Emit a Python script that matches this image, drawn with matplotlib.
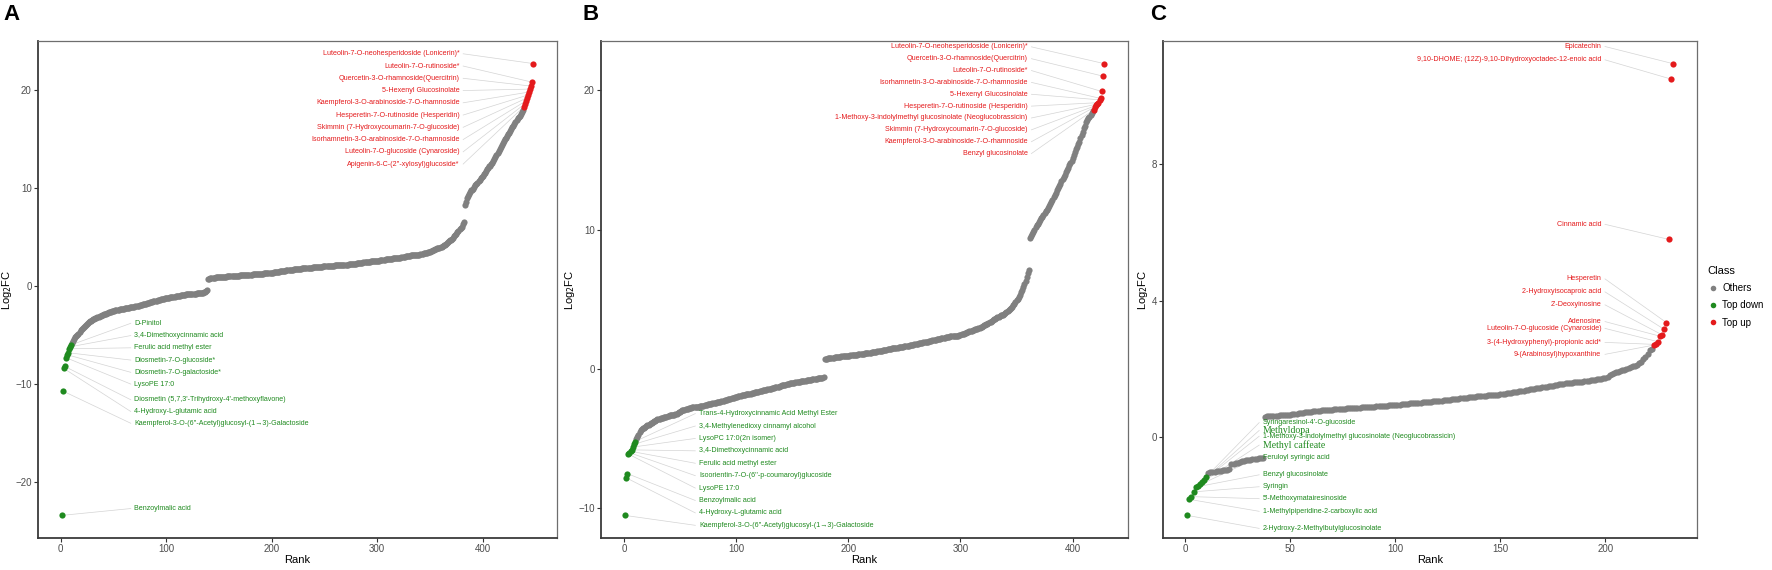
import matplotlib.pyplot as plt
from matplotlib.lines import Line2D

plt.rcParams['font.family'] = ['Liberation Sans', 'DejaVu Sans']

# ---------------- panel A ----------------
a_down = [-23.4, -10.7, -8.4, -8.2, -7.3, -7.0, -6.8, -6.4, -6.2, -6.0]
a_others = [
    -5.8, -5.6, -5.4, -5.2, -5.1, -5.0, -4.9, -4.7, -4.5, -4.4,
    -4.3, -4.2, -4.1, -4.0, -3.9, -3.8, -3.7, -3.6, -3.6, -3.5,
    -3.4, -3.4, -3.3, -3.3, -3.2, -3.2, -3.1, -3.05, -3.0, -2.95,
    -2.9, -2.85, -2.8, -2.75, -2.7, -2.65, -2.62, -2.6, -2.57, -2.54,
    -2.5, -2.47, -2.44, -2.42, -2.4, -2.38, -2.36, -2.34, -2.32, -2.3,
    -2.28, -2.26, -2.24, -2.22, -2.2, -2.18, -2.16, -2.14, -2.12, -2.1,
    -2.08, -2.05, -2.02, -1.99, -1.96, -1.93, -1.9, -1.87, -1.84, -1.81,
    -1.78, -1.75, -1.72, -1.69, -1.66, -1.63, -1.6, -1.57, -1.54, -1.51,
    -1.48, -1.45, -1.42, -1.39, -1.36, -1.33, -1.3, -1.28, -1.26, -1.24,
    -1.22, -1.2, -1.18, -1.16, -1.14, -1.12, -1.1, -1.08, -1.06, -1.04,
    -1.02, -1.0, -0.98, -0.96, -0.94, -0.92, -0.9, -0.88, -0.86, -0.84,
    -0.83, -0.82, -0.81, -0.8, -0.79, -0.78, -0.77, -0.76, -0.75, -0.74,
    -0.73, -0.72, -0.71, -0.7, -0.68, -0.65, -0.6, -0.5, -0.4,
    0.7, 0.75, 0.78, 0.8, 0.82, 0.84, 0.86, 0.88, 0.9, 0.9,
    0.9, 0.92, 0.92, 0.94, 0.94, 0.95, 0.96, 0.97, 0.98, 0.98,
    0.99, 1.0, 1.0, 1.01, 1.02, 1.03, 1.04, 1.05, 1.06, 1.07,
    1.08, 1.09, 1.1, 1.1, 1.11, 1.12, 1.13, 1.14, 1.15, 1.16,
    1.17, 1.18, 1.19, 1.2, 1.2, 1.21, 1.22, 1.23, 1.24, 1.25,
    1.26, 1.27, 1.28, 1.29, 1.3, 1.3, 1.31, 1.32, 1.33, 1.35,
    1.37, 1.38, 1.4, 1.42, 1.43, 1.45, 1.46, 1.48, 1.5, 1.51,
    1.53, 1.55, 1.56, 1.58, 1.6, 1.61, 1.63, 1.64, 1.66, 1.67,
    1.69, 1.7, 1.71, 1.72, 1.73, 1.75, 1.76, 1.77, 1.78, 1.8,
    1.81, 1.82, 1.83, 1.84, 1.85, 1.86, 1.87, 1.88, 1.89, 1.9,
    1.91, 1.92, 1.93, 1.94, 1.95, 1.96, 1.97, 1.98, 1.99, 2.0,
    2.0, 2.01, 2.02, 2.03, 2.04, 2.05, 2.06, 2.07, 2.08, 2.09,
    2.1, 2.11, 2.12, 2.13, 2.14, 2.15, 2.16, 2.17, 2.18, 2.19,
    2.2, 2.2, 2.2, 2.25, 2.25, 2.25, 2.3, 2.3, 2.3, 2.3,
    2.3, 2.35, 2.35, 2.35, 2.4, 2.4, 2.4, 2.45, 2.45, 2.5,
    2.5, 2.5, 2.5, 2.5, 2.55, 2.55, 2.55, 2.55, 2.55, 2.55,
    2.55, 2.6, 2.6, 2.65, 2.65, 2.7, 2.7, 2.7, 2.75, 2.75,
    2.75, 2.8, 2.8, 2.8, 2.8, 2.85, 2.85, 2.85, 2.85, 2.85,
    2.85, 2.9, 2.9, 2.95, 2.95, 3.0, 3.0, 3.05, 3.05, 3.1,
    3.1, 3.1, 3.15, 3.15, 3.15, 3.2, 3.2, 3.2, 3.2, 3.2,
    3.2, 3.25, 3.3, 3.3, 3.35, 3.35, 3.4, 3.4, 3.45, 3.45,
    3.5, 3.55, 3.6, 3.65, 3.7, 3.75, 3.8, 3.85, 3.9, 3.9,
    3.95, 4.0, 4.1, 4.15, 4.2, 4.3, 4.4, 4.5, 4.6, 4.65,
    4.7, 4.8, 4.9, 5.1, 5.2, 5.3, 5.5, 5.6, 5.8, 5.9,
    6.0, 6.3, 6.5, 8.3, 8.6, 9.0, 9.2, 9.4, 9.6, 9.8,
    9.8, 9.9, 10.1, 10.3, 10.4, 10.5, 10.7, 10.8, 11.0, 11.1,
    11.2, 11.4, 11.5, 11.7, 11.9, 12.0, 12.2, 12.3, 12.5, 12.6,
    12.8, 13.0, 13.2, 13.4, 13.6, 13.8, 14.0, 14.2, 14.4, 14.6,
    14.8, 15.0, 15.1, 15.3, 15.5, 15.6, 15.8, 16.0, 16.2, 16.3,
    16.5, 16.7, 16.9, 17.1, 17.3, 17.4, 17.6, 17.8, 18.0,
]
a_up = [18.3, 18.6, 18.9, 19.2, 19.5, 19.8, 20.1, 20.4, 20.8, 22.7]
a_up_names = [
    "Luteolin-7-O-neohesperidoside (Lonicerin)*",
    "Luteolin-7-O-rutinoside*",
    "Quercetin-3-O-rhamnoside(Quercitrin)",
    "5-Hexenyl Glucosinolate",
    "Kaempferol-3-O-arabinoside-7-O-rhamnoside",
    "Hesperetin-7-O-rutinoside (Hesperidin)",
    "Skimmin (7-Hydroxycoumarin-7-O-glucoside)",
    "Isorhamnetin-3-O-arabinoside-7-O-rhamnoside",
    "Luteolin-7-O-glucoside (Cynaroside)",
    "Apigenin-6-C-(2''-xylosyl)glucoside*",
]
a_down_names = [
    "D-Pinitol",
    "3,4-Dimethoxycinnamic acid",
    "Ferulic acid methyl ester",
    "Diosmetin-7-O-glucoside*",
    "Diosmetin-7-O-galactoside*",
    "LysoPE 17:0",
    "Diosmetin (5,7,3'-Trihydroxy-4'-methoxyflavone)",
    "4-Hydroxy-L-glutamic acid",
    "Kaempferol-3-O-(6''-Acetyl)glucosyl-(1\u21923)-Galactoside",
    "Benzoylmalic acid",
]

# ---------------- panel B ----------------
b_down = [-10.5, -7.8, -7.5, -6.1, -6.0, -5.9, -5.8, -5.6, -5.4, -5.2]
b_others = [
    -5.0, -4.85, -4.7, -4.55, -4.4, -4.3, -4.25, -4.2, -4.15, -4.1,
    -4.05, -4.0, -3.95, -3.9, -3.85, -3.8, -3.75, -3.7, -3.65, -3.62,
    -3.6, -3.58, -3.55, -3.52, -3.5, -3.47, -3.44, -3.41, -3.38, -3.35,
    -3.33, -3.31, -3.3, -3.3, -3.3, -3.25, -3.2, -3.15, -3.1, -3.05,
    -3.0, -2.97, -2.95, -2.92, -2.9, -2.87, -2.85, -2.82, -2.8, -2.77,
    -2.75, -2.74, -2.73, -2.72, -2.71, -2.7, -2.7, -2.68, -2.66, -2.64,
    -2.62, -2.6, -2.58, -2.56, -2.54, -2.52, -2.5, -2.48, -2.46, -2.44,
    -2.42, -2.41, -2.4, -2.4, -2.37, -2.35, -2.32, -2.3, -2.27, -2.25,
    -2.22, -2.2, -2.17, -2.15, -2.12, -2.1, -2.07, -2.05, -2.02, -2.0,
    -1.98, -1.96, -1.94, -1.92, -1.9, -1.88, -1.86, -1.84, -1.82, -1.81,
    -1.8, -1.78, -1.76, -1.74, -1.72, -1.7, -1.68, -1.66, -1.64, -1.62,
    -1.6, -1.58, -1.56, -1.54, -1.52, -1.5, -1.48, -1.46, -1.44, -1.42,
    -1.4, -1.38, -1.36, -1.34, -1.32, -1.3, -1.28, -1.26, -1.23, -1.2,
    -1.18, -1.16, -1.14, -1.12, -1.1, -1.08, -1.06, -1.04, -1.02, -1.0,
    -0.99, -0.97, -0.95, -0.94, -0.92, -0.91, -0.9, -0.88, -0.87, -0.86,
    -0.85, -0.84, -0.82, -0.81, -0.8, -0.78, -0.77, -0.75, -0.74, -0.72,
    -0.71, -0.7, -0.68, -0.67, -0.65, -0.64, -0.62, -0.6,
    0.7, 0.72, 0.74, 0.76, 0.77, 0.79, 0.8, 0.81, 0.82, 0.83, 0.85, 0.86,
    0.87, 0.88, 0.89, 0.9, 0.9, 0.91, 0.92, 0.93, 0.94, 0.95,
    0.96, 0.97, 0.98, 0.99, 1.0, 1.01, 1.02, 1.03, 1.04, 1.05,
    1.07, 1.08, 1.09, 1.1, 1.12, 1.13, 1.14, 1.16, 1.17, 1.18,
    1.2, 1.21, 1.22, 1.24, 1.25, 1.27, 1.28, 1.29, 1.31, 1.32,
    1.34, 1.35, 1.37, 1.38, 1.4, 1.42, 1.43, 1.45, 1.47, 1.48,
    1.5, 1.51, 1.53, 1.54, 1.55, 1.56, 1.58, 1.59, 1.6, 1.62,
    1.63, 1.65, 1.66, 1.68, 1.7, 1.71, 1.73, 1.74, 1.76, 1.78,
    1.79, 1.81, 1.83, 1.84, 1.86, 1.88, 1.9, 1.91, 1.93, 1.95,
    1.97, 1.99, 2.01, 2.03, 2.05, 2.07, 2.08, 2.1, 2.12, 2.14,
    2.16, 2.18, 2.2, 2.21, 2.23, 2.25, 2.27, 2.29, 2.31, 2.32,
    2.33, 2.34, 2.35, 2.36, 2.37, 2.38, 2.39, 2.4, 2.42, 2.45,
    2.48, 2.51, 2.54, 2.57, 2.6, 2.63, 2.66, 2.69, 2.72, 2.75,
    2.78, 2.81, 2.84, 2.87, 2.9, 2.94, 2.97, 3.0, 3.04, 3.08,
    3.12, 3.16, 3.2, 3.25, 3.3, 3.35, 3.4, 3.45, 3.5, 3.55,
    3.6, 3.65, 3.7, 3.75, 3.8, 3.85, 3.88, 3.9, 3.95, 4.0,
    4.08, 4.16, 4.24, 4.32, 4.4, 4.48, 4.56, 4.65, 4.8, 4.92,
    5.05, 5.18, 5.3, 5.5, 5.7, 5.9, 6.1, 6.3, 6.6, 6.85, 7.1,
    9.4, 9.55, 9.7, 9.85, 10.0, 10.2, 10.3, 10.4, 10.55,
    10.65, 10.8, 10.9, 11.05, 11.15, 11.3, 11.4, 11.55, 11.7, 11.85,
    12.0, 12.15, 12.3, 12.45, 12.6, 12.8, 13.0, 13.15, 13.3, 13.45,
    13.6, 13.75, 13.9, 14.1, 14.25, 14.4, 14.6, 14.75, 14.95, 15.15,
    15.35, 15.55, 15.75, 15.9, 16.1, 16.3, 16.55, 16.8, 17.0, 17.25,
    17.45, 17.7, 17.85, 18.0, 18.1, 18.2, 18.35, 18.5,
]
b_up = [18.6, 18.8, 18.9, 19.0, 19.1, 19.3, 19.4, 19.9, 21.0, 21.9]
b_up_names = [
    "Luteolin-7-O-neohesperidoside (Lonicerin)*",
    "Quercetin-3-O-rhamnoside(Quercitrin)",
    "Luteolin-7-O-rutinoside*",
    "Isorhamnetin-3-O-arabinoside-7-O-rhamnoside",
    "5-Hexenyl Glucosinolate",
    "Hesperetin-7-O-rutinoside (Hesperidin)",
    "1-Methoxy-3-indolylmethyl glucosinolate (Neoglucobrassicin)",
    "Skimmin (7-Hydroxycoumarin-7-O-glucoside)",
    "Kaempferol-3-O-arabinoside-7-O-rhamnoside",
    "Benzyl glucosinolate",
]
b_down_names = [
    "Trans-4-Hydroxycinnamic Acid Methyl Ester",
    "3,4-Methylenedioxy cinnamyl alcohol",
    "LysoPC 17:0(2n isomer)",
    "3,4-Dimethoxycinnamic acid",
    "Ferulic acid methyl ester",
    "Isoorientin-7-O-(6''-p-coumaroyl)glucoside",
    "LysoPE 17:0",
    "Benzoylmalic acid",
    "4-Hydroxy-L-glutamic acid",
    "Kaempferol-3-O-(6''-Acetyl)glucosyl-(1\u21923)-Galactoside",
]

# ---------------- panel C ----------------
c_down = [-2.29, -1.82, -1.74, -1.6, -1.46, -1.42, -1.36, -1.3, -1.24, -1.16]
c_others = [
    -1.04, -1.03, -1.02, -1.01, -1.0, -0.99, -0.98, -0.97, -0.96, -0.95, -0.93,
    -0.78, -0.77, -0.75, -0.74, -0.72, -0.7, -0.69, -0.68, -0.67,
    -0.66, -0.65, -0.64, -0.63, -0.62, -0.61, -0.6,
    0.6, 0.61, 0.61, 0.62, 0.62, 0.63, 0.63, 0.64, 0.64, 0.65, 0.65, 0.65, 0.66,
    0.67, 0.68, 0.69, 0.7, 0.71, 0.72, 0.73, 0.73, 0.74, 0.75,
    0.76, 0.77, 0.77, 0.78, 0.79, 0.79, 0.8, 0.8, 0.81, 0.81,
    0.82, 0.82, 0.83, 0.83, 0.84, 0.84, 0.85, 0.85, 0.86, 0.86,
    0.87, 0.87, 0.87, 0.88, 0.88, 0.89, 0.89, 0.9, 0.9, 0.9,
    0.91, 0.91, 0.92, 0.92, 0.93, 0.93, 0.94, 0.94, 0.95, 0.95,
    0.96, 0.96, 0.97, 0.97, 0.98, 0.98, 0.99, 0.99, 1.0, 1.0,
    1.01, 1.01, 1.02, 1.02, 1.03, 1.04, 1.04, 1.05, 1.05, 1.06,
    1.07, 1.07, 1.08, 1.09, 1.09, 1.1, 1.11, 1.11, 1.12, 1.13,
    1.14, 1.14, 1.15, 1.16, 1.17, 1.17, 1.18, 1.19, 1.2, 1.21,
    1.21, 1.22, 1.22, 1.23, 1.23, 1.24, 1.24, 1.25, 1.25, 1.26,
    1.27, 1.28, 1.29, 1.3, 1.31, 1.32, 1.33, 1.34, 1.35, 1.36,
    1.37, 1.38, 1.39, 1.4, 1.41, 1.42, 1.43, 1.44, 1.45, 1.46,
    1.47, 1.48, 1.49, 1.5, 1.51, 1.53, 1.54, 1.55, 1.56, 1.57,
    1.58, 1.59, 1.6, 1.6, 1.61, 1.61, 1.62, 1.62, 1.63, 1.64,
    1.65, 1.66, 1.67, 1.68, 1.69, 1.7, 1.71, 1.72, 1.73, 1.75,
    1.78, 1.81, 1.84, 1.87, 1.9, 1.92, 1.94, 1.96, 1.98, 2.0,
    2.03, 2.05, 2.08, 2.1, 2.13, 2.17, 2.2, 2.28, 2.35, 2.45, 2.55, 2.6,
]
c_up = [2.7, 2.72, 2.8, 2.96, 3.0, 3.16, 3.36, 5.8, 10.5, 10.95]
c_up_names = [
    "Epicatechin",
    "9,10-DHOME; (12Z)-9,10-Dihydroxyoctadec-12-enoic acid",
    "Cinnamic acid",
    "Hesperetin",
    "2-Hydroxyisocaproic acid",
    "2'-Deoxyinosine",
    "Adenosine",
    "Luteolin-7-O-glucoside (Cynaroside)",
    "3-(4-Hydroxyphenyl)-propionic acid*",
    "9-(Arabinosyl)hypoxanthine",
]
c_down_names = [
    "Syringaresinol-4'-O-glucoside",
    "Methyldopa",
    "1-Methoxy-3-indolylmethyl glucosinolate (Neoglucobrassicin)",
    "Methyl caffeate",
    "Feruloyl syringic acid",
    "Benzyl glucosinolate",
    "Syringin",
    "5'-Methoxymatairesinoside",
    "1-Methylpiperidine-2-carboxylic acid",
    "2-Hydroxy-2-Methylbutylglucosinolate",
]
serif_names = ["Methyldopa", "Methyl caffeate"]

GREY = '#808080'
GREEN = '#1F8A1F'
RED = '#E41A1C'
SEG = '#D4D4D4'


def draw_panel(ax, down, others, up, down_names, up_names,
               up_x, up_y, down_x, down_y, xticks, yticks):
    vals = down + others + up
    n = len(vals)
    ranks = list(range(1, n + 1))
    nd, no = len(down), len(others)
    xpad = 0.05 * (n - 1)
    x0, x1 = 1 - xpad, n + xpad
    ypad = 0.05 * (max(vals) - min(vals))
    ax.set_xlim(x0, x1)
    ax.set_ylim(min(vals) - ypad, max(vals) + ypad)
    gap = 0.007 * (x1 - x0)

    ax.scatter(ranks[nd:nd + no], others, s=20, color=GREY, lw=0, zorder=3)
    ax.scatter(ranks[:nd], down, s=20, color=GREEN, lw=0, zorder=4)
    ax.scatter(ranks[nd + no:], up, s=20, color=RED, lw=0, zorder=4)

    # up labels: highest point first
    up_pts = sorted(zip(ranks[nd + no:], up), key=lambda p: -p[1])
    for name, ly, (px, py) in zip(up_names, up_y, up_pts):
        ax.plot([up_x + gap, px], [ly, py], color=SEG, lw=0.5, zorder=1)
        ax.text(up_x, ly, name, ha='right', va='center', fontsize=5.1,
                color=RED, zorder=5)
    # down labels: highest point first
    dn_pts = sorted(zip(ranks[:nd], down), key=lambda p: -p[1])
    for name, ly, (px, py) in zip(down_names, down_y, dn_pts):
        ax.plot([down_x - gap, px], [ly, py], color=SEG, lw=0.5, zorder=1)
        if name in serif_names:
            ax.text(down_x, ly, name, ha='left', va='center', fontsize=7,
                    color=GREEN, family='Liberation Serif', zorder=5)
        else:
            ax.text(down_x, ly, name, ha='left', va='center', fontsize=5.1,
                    color=GREEN, zorder=5)

    ax.set_xticks(xticks)
    ax.set_yticks(yticks)
    ax.tick_params(length=3, width=0.8, color='#333333', labelcolor='#4D4D4D',
                   labelsize=7, pad=1.5)
    for side in ['left', 'bottom']:
        ax.spines[side].set_color('#3A3A3A')
        ax.spines[side].set_linewidth(1.3)
    for side in ['top', 'right']:
        ax.spines[side].set_color('#6E6E6E')
        ax.spines[side].set_linewidth(0.9)
    ax.set_xlabel('Rank', fontsize=8, labelpad=0.5)
    ax.set_ylabel('Log$_2$FC', fontsize=8, labelpad=1)


W, H = 1772, 570
fig = plt.figure(figsize=(W / 100, H / 100), dpi=100)
bot, hgt = 32 / H, 497 / H
axA = fig.add_axes([38 / W, bot, 519 / W, hgt])
axB = fig.add_axes([601 / W, bot, 527 / W, hgt])
axC = fig.add_axes([1163 / W, bot, 534 / W, hgt])

draw_panel(axA, a_down, a_others, a_up, a_down_names, a_up_names,
           378, [23.7 - 1.25 * i for i in range(10)],
           70, [-3.8, -5.05, -6.3, -7.55, -8.8, -10.0, -11.6, -12.8, -14.0, -22.7],
           [0, 100, 200, 300, 400], [-20, -10, 0, 10, 20])
draw_panel(axB, b_down, b_others, b_up, b_down_names, b_up_names,
           360, [23.1 - 0.85 * i for i in range(10)],
           67, [-3.2 - 0.89 * i for i in range(10)],
           [0, 100, 200, 300, 400], [-10, 0, 10, 20])
draw_panel(axC, c_down, c_others, c_up, c_down_names, c_up_names,
           198, [11.45, 11.06, 6.24, 4.64, 4.26, 3.88, 3.39, 3.19, 2.78, 2.43],
           37, [0.43, 0.2, 0.03, -0.23, -0.58, -1.1, -1.45, -1.8, -2.17, -2.67],
           [0, 50, 100, 150, 200], [0, 4, 8])

for letter, xp in [('A', 3), ('B', 582), ('C', 1150)]:
    fig.text(xp / W, 1 - 4 / H, letter, fontsize=16, fontweight='bold',
             ha='left', va='top')

handles = [Line2D([], [], ls='', marker='o', ms=4, mec='none', color=c)
           for c in (GREY, GREEN, RED)]
fig.legend(handles, ['Others', 'Top down', 'Top up'], title='Class',
           loc='upper left', bbox_to_anchor=(1703 / W, 1 - 262 / H),
           frameon=False, fontsize=7, title_fontsize=8, handletextpad=0.4,
           labelspacing=0.75, handlelength=1.2, alignment='left',
           borderaxespad=0)

fig.savefig('out.png', dpi=100)
